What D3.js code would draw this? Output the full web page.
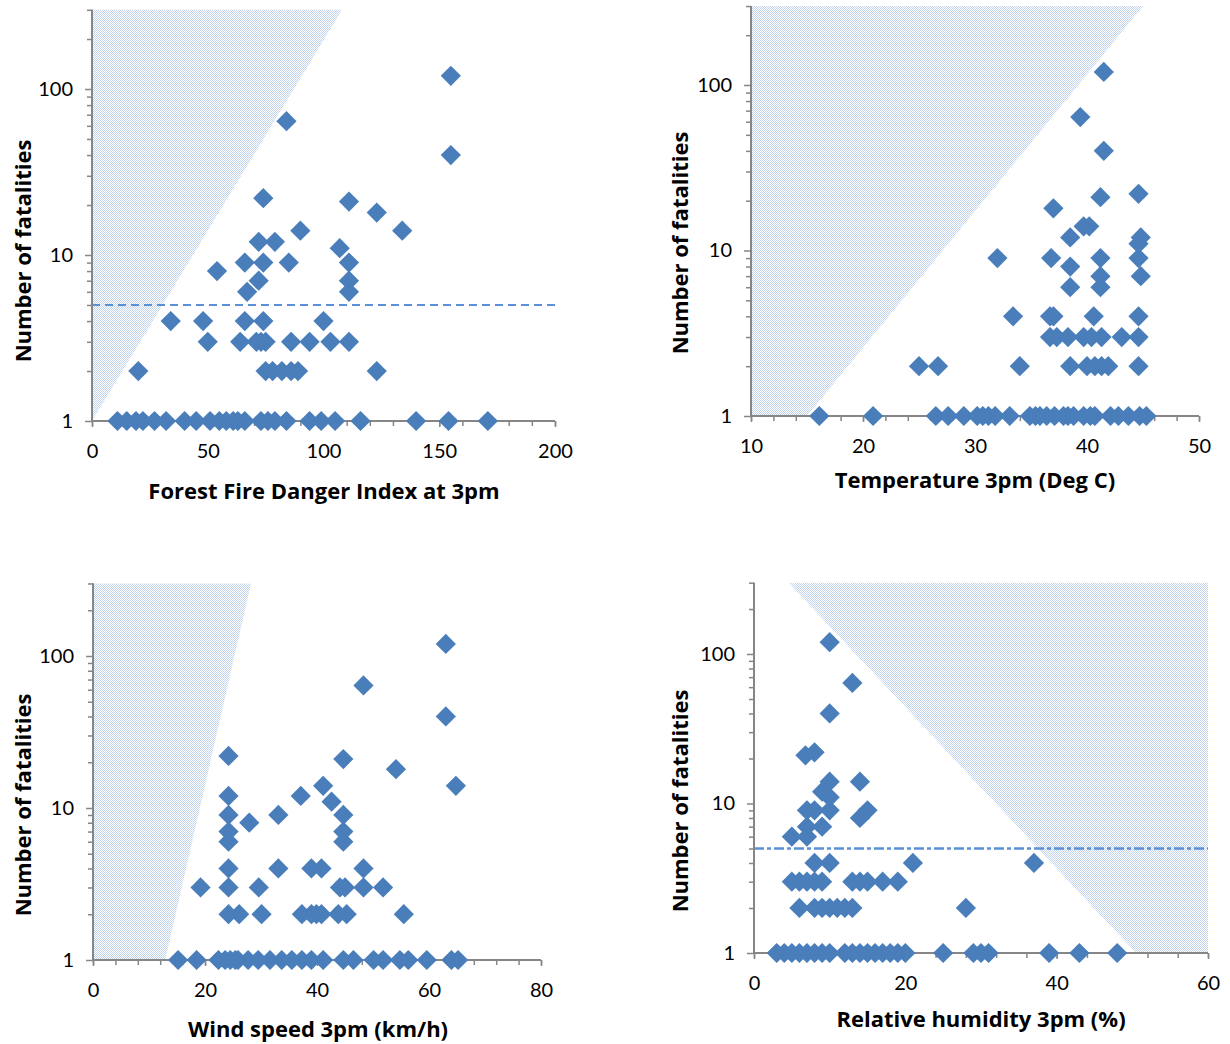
<!DOCTYPE html>
<html>
<head>
<meta charset="utf-8">
<script src="https://cdn.jsdelivr.net/npm/d3@7"></script>
<style>
  html, body { margin: 0; padding: 0; background: #ffffff; }
  svg { display: block; }
  text { font-family: Lato, "Open Sans", "Liberation Sans", sans-serif; fill: #000; }
  .title { font-family: "Open Sans", Lato, sans-serif; font-weight: bold; font-size: 22px; }
</style>
</head>
<body>
<svg id="chart" width="1230" height="1044"></svg>
<script>
// Fire events: [explanatory variable, number of fatalities]
const ffdiPoints = [
  [155,120],[84,64],[155,40],[74,22],[111,21],[123,18],[134,14],[90,14],[72,12],[79,12],
  [107,11],[66,9],[74,9],[85,9],[111,9],[54,8],[72,7],[111,7],[67,6],[111,6],
  [34,4],[48,4],[66,4],[74,4],[100,4],
  [50,3],[64,3],[71,3],[73,3],[75,3],[86,3],[94,3],[103,3],[111,3],
  [20,2],[75,2],[78,2],[82,2],[86,2],[89,2],[123,2],
  [11,1],[15,1],[19,1],[22,1],[27,1],[32,1],[40,1],[45,1],[51,1],[55,1],[58,1],[61,1],
  [63,1],[66,1],[73,1],[76,1],[79,1],[84,1],[94,1],[99,1],[105,1],[116,1],[140,1],[154,1],[171,1]
];

const tempPoints = [
  [41.5,120],[39.4,64],[41.5,40],[41.2,21],[44.6,22],[37,18],[39.7,14],[40.2,14],[38.5,12],
  [44.8,12],[44.6,11],[32,9],[36.8,9],[41.2,9],[44.6,9],[38.5,8],[41.2,7],[44.8,7],[38.5,6],[41.2,6],
  [33.4,4],[36.7,4],[37.0,4],[40.6,4],[44.6,4],
  [36.7,3],[37.3,3],[38.3,3],[39.7,3],[40.4,3],[41.3,3],[43.1,3],[44.6,3],
  [25.0,2],[26.7,2],[34.0,2],[38.5,2],[40.0,2],[40.7,2],[41.3,2],[41.9,2],[44.6,2],
  [16.1,1],[20.9,1],[26.5,1],[27.6,1],[29.0,1],[30.2,1],[30.7,1],[31.2,1],[31.8,1],[33.1,1],
  [34.9,1],[35.4,1],[35.8,1],[36.4,1],[37.1,1],[37.9,1],[38.3,1],[38.8,1],[39.7,1],[40.3,1],
  [40.7,1],[42.1,1],[42.8,1],[43.7,1],[44.7,1],[45.3,1]
];

const windPoints = [
  [63,120],[48.3,64],[63,40],[24.2,22],[44.7,21],[54.1,18],[64.8,14],[41.1,14],[24.2,12],[37.1,12],
  [42.6,11],[24.2,9],[33.1,9],[44.7,9],[27.9,8],[24.2,7],[44.7,7],[24.2,6],[44.7,6],
  [24.2,4],[33.1,4],[39.0,4],[40.8,4],[48.3,4],
  [19.2,3],[24.2,3],[29.6,3],[44.1,3],[45.0,3],[48.3,3],[51.8,3],
  [24.2,2],[26.1,2],[30.1,2],[37.3,2],[39.0,2],[39.9,2],[40.8,2],[43.8,2],[45.3,2],[55.5,2],
  [15.2,1],[18.5,1],[22.4,1],[23.6,1],[24.5,1],[25.4,1],[25.9,1],[27.7,1],[29.5,1],[31.6,1],
  [33.7,1],[35.5,1],[37.3,1],[39.0,1],[41.1,1],[44.7,1],[46.5,1],[50.1,1],[51.8,1],[54.8,1],
  [56.3,1],[59.6,1],[64.0,1],[65.2,1]
];

const rhPoints = [
  [10,120],[13,64],[10,40],[6.8,21],[8,22],[10,14],[14,14],[9,12],[10,11],[7,9],[8,9],[10,9],
  [15,9],[14,8],[7,7],[9,7],[5,6],[7,6],
  [8,4],[10,4],[21,4],[37,4],
  [5,3],[6,3],[7,3],[8,3],[9,3],[13,3],[14,3],[15,3],[17,3],[19,3],
  [6,2],[8,2],[9,2],[10,2],[11,2],[12,2],[13,2],[28,2],
  [3,1],[4,1],[5,1],[6,1],[7,1],[8,1],[9,1],[10,1],[12,1],[13,1],[14,1],[15,1],[16,1],
  [17,1],[18,1],[19,1],[20,1],[25,1],[29,1],[30,1],[31,1],[39,1],[43,1],[48,1]
];

// Regions judged outside the plausible range of conditions (dotted)
const ffdiShade = [[0,1],[0,300],[108,300]];
const tempShade = [[10,1],[15,1],[45,300],[10,300]];
const windShade = [[0,1],[12.9,1],[28.2,300],[0,300]];
const rhShade   = [[4.6,300],[60,300],[60,1],[50.5,1]];

// Axis ticks
const fatalityDomain = [1, 300];
const fatalityLabels = [1, 10, 100];
const fatalityMinor = [2,3,4,5,6,7,8,9,20,30,40,50,60,70,80,90,200,300];
const ffdiTicks = [0, 50, 100, 150, 200];
const tempTicks = [10, 20, 30, 40, 50];
const windTicks = [0, 20, 40, 60, 80];
const rhTicks   = [0, 20, 40, 60];

// Threshold of five fatalities
const thresholdValue = 5;

const svg = d3.select("#chart");
const markerColor = "#4a7ebb";
const axisColor = "#868686";

// fine dotted fill
const defs = svg.append("defs");
const pat = defs.append("pattern")
  .attr("id", "dots").attr("patternUnits", "userSpaceOnUse")
  .attr("width", 2).attr("height", 2);
pat.append("rect").attr("width", 2).attr("height", 2).attr("fill", "#ffffff");
[[0,0],[1,1]].forEach(([px,py]) =>
  pat.append("rect").attr("x", px).attr("y", py).attr("width", 1).attr("height", 1).attr("fill", "#c2d4ee"));

function range(a, b, step) {
  const out = [];
  for (let v = a; v <= b + 1e-9; v += step) out.push(+v.toFixed(6));
  return out;
}

function drawPanel(cfg) {
  const g = svg.append("g");
  const x = d3.scaleLinear().domain(cfg.xDomain).range([cfg.left, cfg.right]);
  const y = d3.scaleLog().domain(fatalityDomain)
    .range([cfg.bottom, cfg.bottom - cfg.decade * Math.log10(fatalityDomain[1])]);

  // dotted region
  g.append("path")
    .attr("d", d3.line().x(d => x(d[0])).y(d => y(d[1]))(cfg.shade) + "Z")
    .attr("fill", "url(#dots)");

  // threshold line
  if (cfg.threshold) {
    g.append("line")
      .attr("x1", x(cfg.xDomain[0])).attr("x2", x(cfg.xDomain[1]))
      .attr("y1", y(thresholdValue)).attr("y2", y(thresholdValue))
      .attr("stroke", "#5b8fd8").attr("stroke-width", cfg.thresholdWidth)
      .attr("stroke-dasharray", cfg.threshold);
  }

  // y axis: minor ticks, then labelled ticks
  const yMinor = g.append("g").attr("transform", `translate(${cfg.left},0)`)
    .call(d3.axisLeft(y).tickValues(fatalityMinor).tickFormat("").tickSize(5));
  const yMajor = g.append("g").attr("transform", `translate(${cfg.left},0)`)
    .call(d3.axisLeft(y).tickValues(fatalityLabels).tickFormat(d3.format("d")).tickSize(7).tickPadding(12));

  // x axis
  const xMinor = g.append("g").attr("transform", `translate(0,${cfg.bottom})`)
    .call(d3.axisBottom(x).tickValues(range(cfg.xDomain[0], cfg.xDomain[1], cfg.minorStep)).tickFormat("").tickSize(5));
  const xMajor = g.append("g").attr("transform", `translate(0,${cfg.bottom})`)
    .call(d3.axisBottom(x).tickValues(cfg.xTicks).tickFormat(d3.format("d")).tickSize(6).tickPadding(17));

  [yMinor, yMajor, xMinor, xMajor].forEach(a => {
    a.select(".domain").attr("stroke", axisColor).attr("stroke-width", 2);
    a.selectAll(".tick line").attr("stroke", axisColor).attr("stroke-width", 1.5);
    a.selectAll("text").style("font-size", "20px").attr("fill", "#000");
  });
  [yMinor, yMajor].forEach(a => a.select(".domain").attr("d", `M0,${y(fatalityDomain[1])}V${cfg.bottom}`));
  [xMinor, xMajor].forEach(a => a.select(".domain").attr("d", `M${cfg.left},0H${cfg.right}`));

  // markers
  const diamond = d3.symbol().type(d3.symbolSquare).size(205);
  g.append("g").selectAll("path").data(cfg.points).join("path")
    .attr("d", diamond)
    .attr("transform", d => `translate(${x(d[0])},${y(d[1])}) rotate(45)`)
    .attr("fill", markerColor);

  // titles
  g.append("text").attr("class", "title")
    .attr("x", cfg.xTitlePos[0]).attr("y", cfg.xTitlePos[1])
    .attr("text-anchor", "middle")
    .text(cfg.xTitle);
  g.append("text").attr("class", "title")
    .attr("transform", `translate(${cfg.yTitlePos[0]},${cfg.yTitlePos[1]}) rotate(-90)`)
    .attr("text-anchor", "middle").attr("dominant-baseline", "central")
    .text("Number of fatalities");
}

drawPanel({
  points: ffdiPoints, shade: ffdiShade, xDomain: [0, 200], xTicks: ffdiTicks, minorStep: 10,
  left: 92, right: 555, bottom: 421, decade: 166, threshold: "8,5", thresholdWidth: 2,
  xTitle: "Forest Fire Danger Index at 3pm", xTitlePos: [324, 499], yTitlePos: [22, 251]
});
drawPanel({
  points: tempPoints, shade: tempShade, xDomain: [10, 50], xTicks: tempTicks, minorStep: 2,
  left: 751, right: 1199, bottom: 416, decade: 165.5, threshold: null,
  xTitle: "Temperature 3pm (Deg C)", xTitlePos: [975, 488], yTitlePos: [679, 243]
});
drawPanel({
  points: windPoints, shade: windShade, xDomain: [0, 80], xTicks: windTicks, minorStep: 4,
  left: 93, right: 541, bottom: 960, decade: 152, threshold: null,
  xTitle: "Wind speed 3pm (km/h)", xTitlePos: [318, 1037], yTitlePos: [22, 805]
});
drawPanel({
  points: rhPoints, shade: rhShade, xDomain: [0, 60], xTicks: rhTicks, minorStep: 4,
  left: 754, right: 1208, bottom: 953, decade: 149.5, threshold: "10,3,4,3", thresholdWidth: 2.5,
  xTitle: "Relative humidity 3pm (%)", xTitlePos: [981, 1027], yTitlePos: [679, 801]
});
</script>
</body>
</html>
